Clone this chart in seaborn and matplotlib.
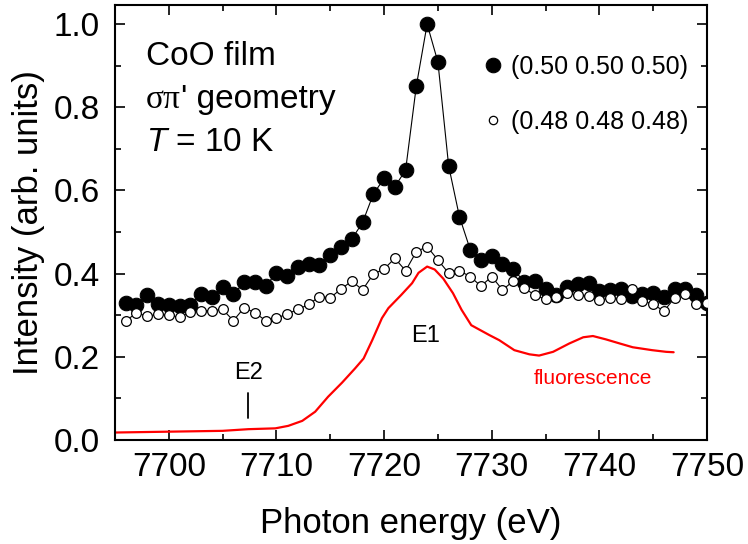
import numpy as np
import pandas as pd
import seaborn as sns
import matplotlib.pyplot as plt
from matplotlib.ticker import MultipleLocator

# photon energy of the resonant scans (eV)
energy = np.arange(7696, 7751)

# (0.50 0.50 0.50) reflection
half = [0.330, 0.324, 0.348, 0.327, 0.324, 0.321, 0.324, 0.351, 0.343, 0.367,
        0.350, 0.379, 0.379, 0.370, 0.402, 0.394, 0.417, 0.424, 0.421, 0.445,
        0.463, 0.483, 0.523, 0.591, 0.629, 0.609, 0.649, 0.852, 1.000, 0.909,
        0.659, 0.537, 0.458, 0.433, 0.443, 0.423, 0.411, 0.381, 0.383, 0.363,
        0.349, 0.369, 0.375, 0.378, 0.358, 0.361, 0.364, 0.347, 0.351, 0.353,
        0.343, 0.362, 0.362, 0.349, 0.330]

# (0.48 0.48 0.48) background
off = [0.287, 0.305, 0.298, 0.302, 0.300, 0.295, 0.308, 0.311, 0.311, 0.314,
       0.287, 0.318, 0.306, 0.287, 0.293, 0.303, 0.314, 0.326, 0.345, 0.342,
       0.363, 0.382, 0.361, 0.399, 0.411, 0.437, 0.407, 0.453, 0.465, 0.433,
       0.401, 0.407, 0.393, 0.370, 0.393, 0.361, 0.382, 0.365, 0.349, 0.338,
       0.343, 0.353, 0.349, 0.347, 0.336, 0.342, 0.340, 0.362, 0.335, 0.326,
       0.310, 0.342, 0.350, 0.327, 0.330]

# fluorescence yield
fluo_energy = [7695.1, 7700.0, 7705.0, 7707.4, 7709.9, 7711.1, 7712.4, 7713.6,
               7714.8, 7716.1, 7717.3, 7718.1, 7718.9, 7719.8, 7720.4, 7721.6,
               7722.6, 7723.2, 7724.0, 7724.7, 7725.5, 7726.4, 7727.2, 7728.1,
               7729.8, 7730.7, 7732.1, 7733.5, 7734.4, 7735.7, 7737.2, 7738.5,
               7739.4, 7740.6, 7741.9, 7743.1, 7744.9, 7746.2, 7746.9]
fluo = [0.018, 0.020, 0.022, 0.026, 0.028, 0.034, 0.046, 0.068,
        0.104, 0.138, 0.172, 0.196, 0.240, 0.293, 0.317, 0.349,
        0.377, 0.402, 0.417, 0.410, 0.388, 0.353, 0.313, 0.276,
        0.252, 0.240, 0.216, 0.206, 0.203, 0.212, 0.232, 0.247,
        0.250, 0.242, 0.232, 0.223, 0.216, 0.212, 0.211]

sns.set_theme(style='ticks')
plt.rcParams['font.family'] = ['Liberation Sans', 'DejaVu Sans']
plt.rcParams['mathtext.fontset'] = 'custom'
plt.rcParams['mathtext.rm'] = 'Liberation Sans'
plt.rcParams['mathtext.it'] = 'Liberation Sans:italic'
plt.rcParams['text.color'] = 'black'
plt.rcParams['axes.labelcolor'] = 'black'
plt.rcParams['xtick.color'] = 'black'
plt.rcParams['ytick.color'] = 'black'

fig, ax = plt.subplots(figsize=(7.48, 5.44), dpi=100)
fig.subplots_adjust(left=0.1537, right=0.9452, bottom=0.1912, top=0.9908)

df = pd.DataFrame({'E': energy, 'half': half, 'off': off})
sns.lineplot(data=df, x='E', y='half', ax=ax, color='black', lw=0.8,
             marker='o', markersize=10.5, markerfacecolor='black',
             markeredgecolor='black', label='(0.50 0.50 0.50)', zorder=3)
sns.lineplot(data=df, x='E', y='off', ax=ax, color='black', lw=0.8,
             marker='o', markersize=7, markerfacecolor='white',
             markeredgecolor='black', markeredgewidth=0.9,
             label='(0.48 0.48 0.48)', zorder=4)
sns.lineplot(x=fluo_energy, y=fluo, ax=ax, color='red', lw=1.6, zorder=2)

ax.set_xlim(7695, 7750)
ax.set_ylim(0, 1.046)
ax.xaxis.set_major_locator(MultipleLocator(10))
ax.xaxis.set_minor_locator(MultipleLocator(5))
ax.yaxis.set_major_locator(MultipleLocator(0.2))
ax.yaxis.set_minor_locator(MultipleLocator(0.1))
ax.yaxis.set_major_formatter(lambda v, p: f'{v:.1f}')
ax.tick_params(which='both', direction='in', top=True, right=True,
               width=1.2, labelsize=24, color='black', labelcolor='black')
ax.tick_params(which='major', length=7)
ax.tick_params(axis='x', which='major', pad=9)
ax.tick_params(axis='y', which='major', pad=11)
ax.tick_params(which='minor', length=4.5)
for s in ax.spines.values():
    s.set_linewidth(1.5)
    s.set_color('black')

ax.set_xlabel('Photon energy (eV)', fontsize=25, labelpad=17)
ax.set_ylabel('Intensity (arb. units)', fontsize=25, labelpad=6)

leg = ax.legend(loc='upper left', bbox_to_anchor=(0.609, 0.909), frameon=False,
                fontsize=18, handlelength=0.6, handletextpad=0.42,
                labelspacing=1.24, borderaxespad=0)
for h in leg.legend_handles:
    h.set_linestyle('')
leg.legend_handles[1].set_markersize(6)

tx = 0.052
ax.text(tx, 0.862, 'CoO film', transform=ax.transAxes, fontsize=24, va='baseline')
t1 = ax.text(tx, 0.763, 'σπ', transform=ax.transAxes, fontsize=24, va='baseline',
             family='Liberation Serif')
ax.annotate("' geometry", xy=(1, 0), xycoords=t1, fontsize=24, va='bottom')
ax.text(tx, 0.664, '$T$ = 10 K', transform=ax.transAxes, fontsize=24, va='baseline')

ax.text(7723.9, 0.25, 'E1', fontsize=17, ha='center', va='center')
ax.text(7707.4, 0.161, 'E2', fontsize=17, ha='center', va='center')
ax.plot([7707.4, 7707.4], [0.052, 0.114], color='black', lw=1.3)
ax.text(7739.4, 0.147, 'fluorescence', fontsize=15, color='red',
        ha='center', va='center')

plt.savefig('out.png', dpi=100)
